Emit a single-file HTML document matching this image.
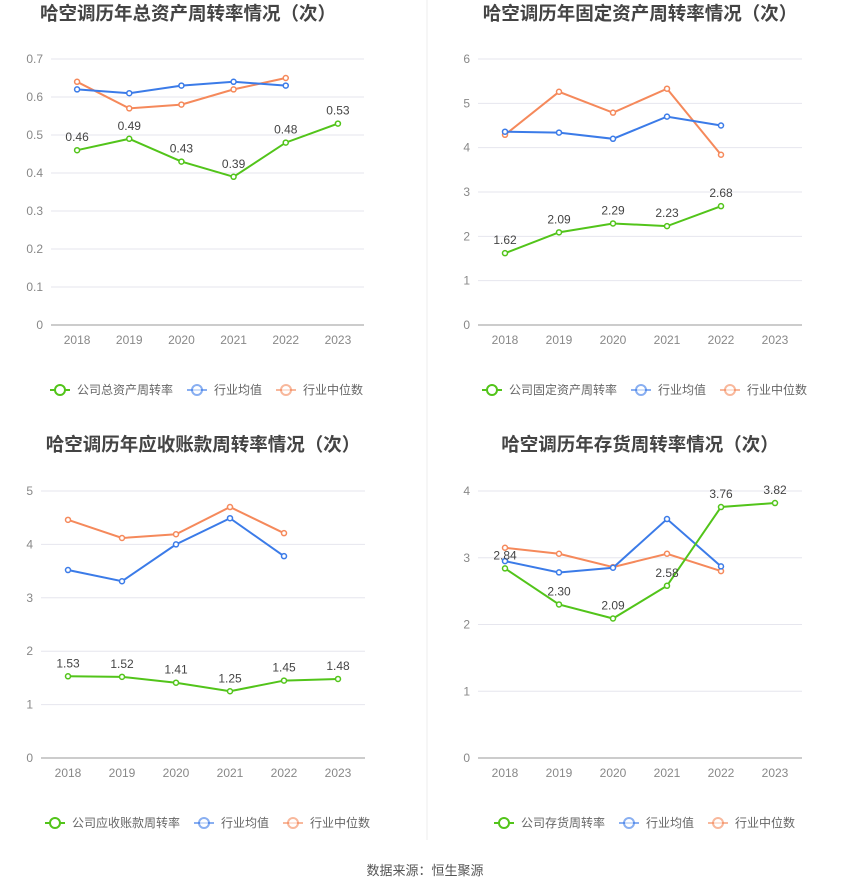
<!DOCTYPE html>
<html><head><meta charset="utf-8"><style>
body{margin:0;background:#fff;font-family:"Liberation Sans","Noto Sans CJK SC",sans-serif;}
svg text{font-family:"Liberation Sans","Noto Sans CJK SC",sans-serif;}
</style></head><body>
<svg id="root" width="850" height="891" xmlns="http://www.w3.org/2000/svg">
<line x1="427" y1="0" x2="427" y2="840" stroke="#eeeeee"/>
<text x="425" y="875" text-anchor="middle" font-size="13" fill="#555">数据来源：恒生聚源</text>
</svg>
<script>
const categories = ['2018','2019','2020','2021','2022','2023'];
const assetCompany = [0.46,0.49,0.43,0.39,0.48,0.53];
const assetAvg = [0.62,0.61,0.63,0.64,0.63];
const assetMedian = [0.64,0.57,0.58,0.62,0.65];
const assetTicks = ['0','0.1','0.2','0.3','0.4','0.5','0.6','0.7'];
const fixedCompany = [1.62,2.09,2.29,2.23,2.68];
const fixedAvg = [4.36,4.34,4.2,4.7,4.5];
const fixedMedian = [4.29,5.26,4.79,5.33,3.84];
const fixedTicks = ['0','1','2','3','4','5','6'];
const recvCompany = [1.53,1.52,1.41,1.25,1.45,1.48];
const recvAvg = [3.52,3.31,4.0,4.49,3.78];
const recvMedian = [4.46,4.12,4.19,4.7,4.21];
const recvTicks = ['0','1','2','3','4','5'];
const invCompany = [2.84,2.30,2.09,2.58,3.76,3.82];
const invAvg = [2.95,2.78,2.85,3.58,2.87];
const invMedian = [3.15,3.06,2.86,3.06,2.80];
const invTicks = ['0','1','2','3','4'];

const NS='http://www.w3.org/2000/svg';
const root=document.getElementById('root');
function mk(tag,attrs,parent){const e=document.createElementNS(NS,tag);for(const k in attrs)e.setAttribute(k,attrs[k]);(parent||root).appendChild(e);return e;}
const GREEN='#52c41a',BLUE='#3b7be8',ORANGE='#f5895b';

function panel(o){
  const g=mk('g',{});
  
  
  const max=+o.ticks[o.ticks.length-1];
  const y=v=>o.y0-(v/max)*(o.y0-o.y1);
  const step=(o.x1-o.x0)/categories.length;
  const x=i=>o.x0+step*(i+0.5);
  const t=mk('text',{x:o.tx,y:o.ty,'text-anchor':'middle','font-size':18.5,'font-weight':'bold',fill:'#444'},g);
  t.textContent=o.title;
  
  
  o.ticks.forEach(tk=>{
    const yy=y(+tk);
    const ln=mk('line',{x1:o.x0,x2:o.x1,y1:yy,y2:yy,stroke:+tk===0?'#999':'#e6e6ee'},g);
    
    
    const lb=mk('text',{x:o.x0-8,y:yy+4,'text-anchor':'end','font-size':12,fill:'#888'},g);
    lb.textContent=tk;
    
    
  });
  categories.forEach((c,i)=>{
    const lb=mk('text',{x:x(i),y:o.y0+19,'text-anchor':'middle','font-size':12,fill:'#888'},g);
    lb.textContent=c;
    
    
  });
  function series(vals,color,nm,labels){
    const s=mk('g',{},g);
    
    
    const pts=vals.map((v,i)=>x(i)+','+y(v)).join(' ');
    const pl=mk('polyline',{points:pts,fill:'none',stroke:color,'stroke-width':2},s);
    
    
    vals.forEach((v,i)=>{
      const c=mk('circle',{cx:x(i),cy:y(v),r:2.5,fill:'#fff',stroke:color,'stroke-width':1.5},s);
      
      
      if(labels){
        const tl=mk('text',{x:x(i),y:y(v)-9,'text-anchor':'middle','font-size':12,fill:'#444'},s);
        tl.textContent=v.toFixed(2);
        
        
      }
    });
  }
  series(o.med,ORANGE,'industry-median-series',false);
  series(o.avg,BLUE,'industry-average-series',false);
  series(o.comp,GREEN,'company-series',true);
  const legs=[[o.compName,GREEN,'legend-company'],['行业均值',BLUE,'legend-average'],['行业中位数',ORANGE,'legend-median']];
  let lx=o.lx;
  legs.forEach(([txt,col,nm])=>{
    const lg=mk('g',{},g);
    
    
    mk('line',{x1:lx,x2:lx+20,y1:o.ly,y2:o.ly,stroke:col,'stroke-width':2,opacity:col===GREEN?1:0.6},lg);
    mk('circle',{cx:lx+10,cy:o.ly,r:5,fill:'#fff',stroke:col,'stroke-width':2,opacity:col===GREEN?1:0.6},lg);
    const tt=mk('text',{x:lx+27,y:o.ly+4,'font-size':12,fill:'#666'},lg);
    tt.textContent=txt;
    lx+=27+txt.length*12+14;
  });
}
panel({name:'total-asset-turnover-chart',title:'哈空调历年总资产周转率情况（次）',tx:188,ty:20,x0:51,x1:364,y0:325,y1:59,ticks:assetTicks,comp:assetCompany,avg:assetAvg,med:assetMedian,compName:'公司总资产周转率',lx:50,ly:390});
panel({name:'fixed-asset-turnover-chart',title:'哈空调历年固定资产周转率情况（次）',tx:640,ty:20,x0:478,x1:802,y0:325,y1:59,ticks:fixedTicks,comp:fixedCompany,avg:fixedAvg,med:fixedMedian,compName:'公司固定资产周转率',lx:482,ly:390});
panel({name:'receivables-turnover-chart',title:'哈空调历年应收账款周转率情况（次）',tx:203,ty:451,x0:41,x1:365,y0:758,y1:491,ticks:recvTicks,comp:recvCompany,avg:recvAvg,med:recvMedian,compName:'公司应收账款周转率',lx:45,ly:823});
panel({name:'inventory-turnover-chart',title:'哈空调历年存货周转率情况（次）',tx:640,ty:451,x0:478,x1:802,y0:758,y1:491,ticks:invTicks,comp:invCompany,avg:invAvg,med:invMedian,compName:'公司存货周转率',lx:494,ly:823});
</script>
</body></html>
